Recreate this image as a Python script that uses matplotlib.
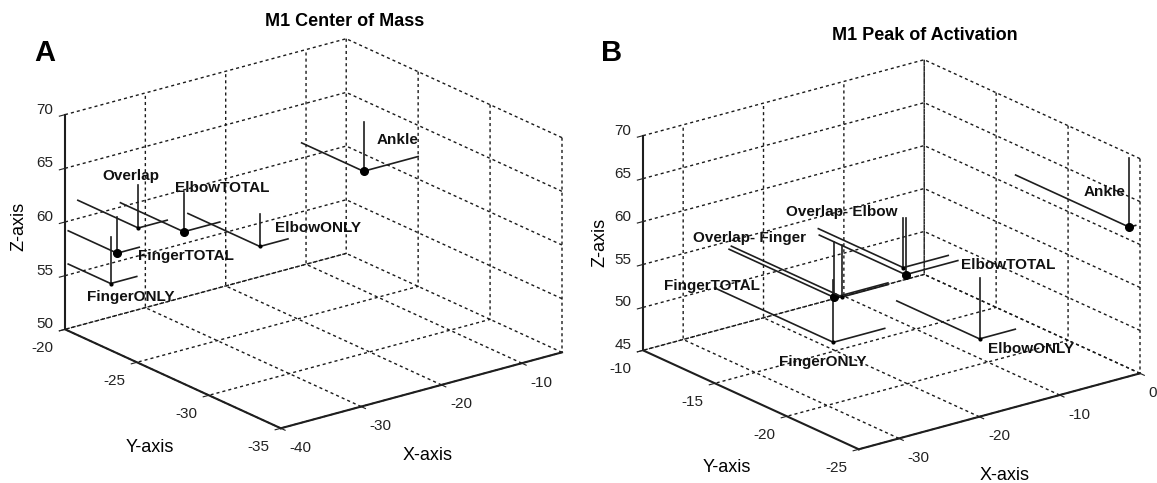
"""Two MATLAB-style 3D panels of M1 coordinates (centre of mass / peak)."""

import itertools

import matplotlib
matplotlib.use("Agg")
import matplotlib.pyplot as plt
import numpy as np
from mpl_toolkits.mplot3d import proj3d

FIG_W, FIG_H, DPI = 1157, 483, 100

# Panel A: M1 centre of mass
A_NAMES = ["FingerONLY", "FingerTOTAL", "Overlap", "ElbowTOTAL", "ElbowONLY", "Ankle"]
A_X = [-39.6, -39.6, -38.4, -33.1, -24.7, -11.8]
A_Y = [-22.95, -23.4, -24.2, -24.4, -25.0, -25.0]
A_Z = [56.0, 59.1, 61.7, 60.4, 57.7, 62.1]
A_SX = [3.25, 2.75, 3.6, 4.5, 3.5, 6.8]
A_SY = [2.95, 3.4, 4.2, 4.4, 5.0, 4.3]
A_SZ = [4.3, 3.35, 4.0, 3.6, 3.0, 4.6]
A_BIG = [False, True, False, True, False, True]

# Panel B: M1 peak of activation
B_NAMES = ["FingerONLY", "FingerTOTAL", "Overlap- Finger", "ElbowTOTAL",
           "Overlap- Elbow", "ElbowONLY", "Ankle"]
B_X = [-32.8, -32.7, -31.7, -23.8, -24.1, -14.6, -0.8]
B_Y = [-22.0, -22.0, -22.0, -22.0, -22.0, -22.0, -24.7]
B_Z = [54.6, 59.8, 59.6, 60.2, 61.1, 50.4, 62.0]
B_SX = [6.4, 6.7, 5.7, 6.5, 5.6, 4.45, 0.8]
B_SY = [8.2, 7.3, 7.7, 6.0, 5.9, 5.75, 7.9]
B_SZ = [7.3, 6.5, 6.0, 6.6, 5.8, 7.1, 8.0]
B_BIG = [False, True, False, True, False, False, True]

# where each name sits relative to its point, in pixels (right, up)
A_LABEL_OFF = [(-24, -13), (21, -3), (-36, 52), (-9, 44), (15, 18), (13, 31)]
B_LABEL_OFF = [(-54, -20), (-170, 11), (-149, 59), (55, 10), (-117, 56), (8, -10), (-46, 35)]

PANELS = [
    dict(letter="A", title="M1 Center of Mass",
         names=A_NAMES, x=A_X, y=A_Y, z=A_Z, sx=A_SX, sy=A_SY, sz=A_SZ, big=A_BIG,
         label_off=A_LABEL_OFF,
         xlim=(-40, -5), ylim=(-35, -20), zlim=(50, 70),
         xticks=[-40, -30, -20, -10], yticks=[-35, -30, -25, -20],
         zticks=[50, 55, 60, 65, 70],
         box=(65, 39, 562, 428), title_xy=(345, 21), letter_xy=(45, 53),
         xlabel_xy=(428, 455), ylabel_xy=(150, 447), zlabel_xy=(19, 226)),
    dict(letter="B", title="M1 Peak of Activation",
         names=B_NAMES, x=B_X, y=B_Y, z=B_Z, sx=B_SX, sy=B_SY, sz=B_SZ, big=B_BIG,
         label_off=B_LABEL_OFF,
         xlim=(-35, 0), ylim=(-25, -10), zlim=(45, 70),
         xticks=[-30, -20, -10, 0], yticks=[-25, -20, -15, -10],
         zticks=[45, 50, 55, 60, 65, 70],
         box=(643, 59, 1140, 450), title_xy=(925, 35), letter_xy=(612, 53),
         xlabel_xy=(1005, 475), ylabel_xy=(727, 468), zlabel_xy=(600, 242)),
]

LINE_COLOR = "#1e1e1e"

plt.rcParams.update({
    "font.family": ["Liberation Sans", "DejaVu Sans"],
    "axes.unicode_minus": False,
    "grid.color": "#1a1a1a",
    "grid.linestyle": (0, (2.2, 2.2)),
    "grid.linewidth": 1.0,
})


def px(x, y):
    """Image pixel (from top-left) to figure fraction."""
    return x / FIG_W, 1 - y / FIG_H


def fit_box(fig, ax, box):
    """Move and resize a 3D axes so its projected cube spans box (l, t, r, b) in pixels."""
    fig.canvas.draw()
    corners = np.array(list(itertools.product(ax.get_xlim3d(), ax.get_ylim3d(),
                                              ax.get_zlim3d())))
    xs, ys, _ = proj3d.proj_transform(corners[:, 0], corners[:, 1], corners[:, 2],
                                      ax.get_proj())
    pts = ax.transData.transform(np.column_stack([xs, ys]))
    x0, y0 = pts.min(axis=0)
    x1, y1 = pts.max(axis=0)
    left, top, right, bottom = box
    scale = (right - left) / (x1 - x0)
    pos = ax.get_position()
    ax_x0, ax_y0 = pos.x0 * FIG_W, pos.y0 * FIG_H
    w, h = pos.width * FIG_W, pos.height * FIG_H
    cx, cy = (x0 + x1) / 2, (y0 + y1) / 2
    tx, ty = (left + right) / 2, FIG_H - (top + bottom) / 2
    new_x0 = tx - (cx - ax_x0) * scale
    new_y0 = ty - (cy - ax_y0) * scale
    ax.set_position([new_x0 / FIG_W, new_y0 / FIG_H, w * scale / FIG_W, h * scale / FIG_H])


def draw_panel(fig, rect, p):
    ax = fig.add_axes(rect, projection="3d")
    ax.set_proj_type("ortho")
    ax.view_init(elev=20.6, azim=-127.5)
    ax.set_box_aspect((1, 1, 0.647))
    ax.set_xlim(*p["xlim"])
    ax.set_ylim(*p["ylim"])
    ax.set_zlim(*p["zlim"])
    ax.set_xticks(p["xticks"], labels=[str(v) for v in p["xticks"]], ha="left")
    ax.set_yticks(p["yticks"], labels=[str(v) for v in p["yticks"]], ha="right")
    ax.set_zticks(p["zticks"], labels=[str(v) for v in p["zticks"]], va="baseline")

    for axis in (ax.xaxis, ax.yaxis, ax.zaxis):
        axis.set_pane_color((1, 1, 1, 0))
        axis.pane.set_edgecolor("none")
        axis.line.set_color(LINE_COLOR)
        axis.line.set_linewidth(1.5)
        axis._axinfo["tick"]["inward_factor"] = 0.25
        axis._axinfo["tick"]["outward_factor"] = 0.0
    ax.tick_params(labelsize=11, colors="#222222", pad=0)

    for i in range(len(p["names"])):
        x, y, z = p["x"][i], p["y"][i], p["z"][i]
        ax.plot([x, x + p["sx"][i]], [y, y], [z, z], color=LINE_COLOR, lw=1.2)
        ax.plot([x, x], [y, y + p["sy"][i]], [z, z], color=LINE_COLOR, lw=1.2)
        ax.plot([x, x], [y, y], [z, z + p["sz"][i]], color=LINE_COLOR, lw=1.2)
        ax.plot([x], [y], [z], "o", color="black",
                markersize=5.5 if p["big"][i] else 2.0)

    fig.text(*px(*p["title_xy"]), p["title"], fontsize=13, fontweight="bold",
             ha="center", va="center")
    fig.text(*px(*p["letter_xy"]), p["letter"], fontsize=21, fontweight="bold",
             ha="center", va="center")
    fig.text(*px(*p["xlabel_xy"]), "X-axis", fontsize=13, ha="center", va="center")
    fig.text(*px(*p["ylabel_xy"]), "Y-axis", fontsize=13, ha="center", va="center")
    fig.text(*px(*p["zlabel_xy"]), "Z-axis", fontsize=13, ha="center", va="center",
             rotation=90)
    return ax


def label_points(ax, p):
    """Write each name beside its point, after the axes has its final place."""
    for i, name in enumerate(p["names"]):
        xp, yp, _ = proj3d.proj_transform(p["x"][i], p["y"][i], p["z"][i], ax.get_proj())
        ax.annotate(name, (xp, yp), xytext=p["label_off"][i], textcoords="offset pixels",
                    fontsize=11, fontweight="bold", ha="left", va="center",
                    color="#111111")


fig = plt.figure(figsize=(FIG_W / DPI, FIG_H / DPI), dpi=DPI)
axes = []
for k, panel in enumerate(PANELS):
    axes.append(draw_panel(fig, [0.02 + 0.5 * k, 0.05, 0.46, 0.9], panel))

for ax, panel in zip(axes, PANELS):
    fit_box(fig, ax, panel["box"])
fig.canvas.draw()
for ax, panel in zip(axes, PANELS):
    label_points(ax, panel)

fig.savefig("out.png", dpi=DPI)
